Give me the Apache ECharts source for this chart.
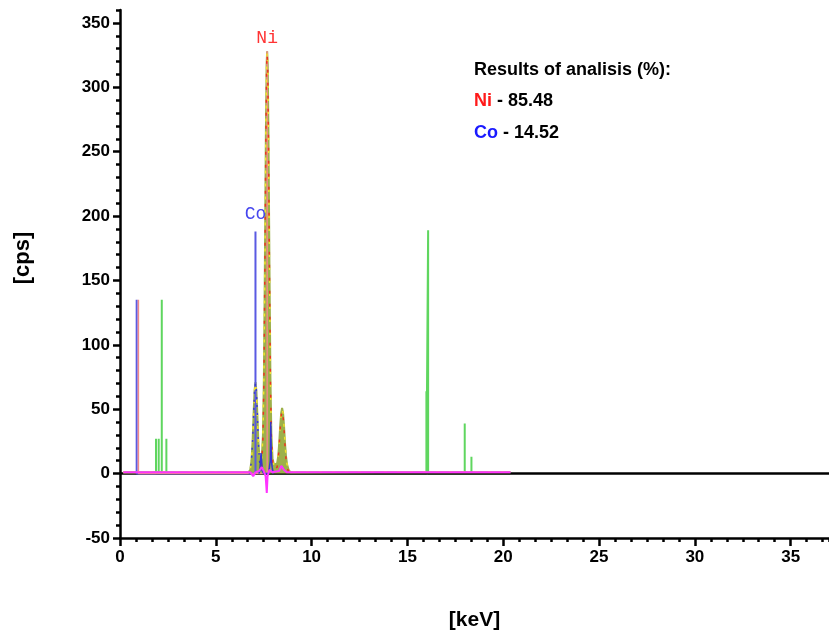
<!DOCTYPE html>
<html>
<head>
<meta charset="utf-8">
<script src="https://cdn.jsdelivr.net/npm/echarts@6/dist/echarts.min.js"></script>
<style>
html,body{margin:0;padding:0;background:#fff;}
#chart{width:829px;height:635px;}
</style>
</head>
<body>
<div id="chart"></div>
<script>
// ---- Data (keV, cps) ----
const xMajorTicks = [0, 5, 10, 15, 20, 25, 30, 35];
const yMajorTicks = [-50, 0, 50, 100, 150, 200, 250, 300, 350];

// measured spectrum (olive filled area)
const measured = [
  [0.17,1],[0.8,1],[0.9,1.5],[1.0,1],[6.7,1],
  [6.80,3],[6.86,10],[6.92,25],[6.97,45],[7.02,64],[7.07,71],[7.12,64],[7.17,45],[7.22,25],[7.28,12],[7.33,9],
  [7.40,12],[7.46,30],[7.51,75],[7.56,160],[7.61,260],[7.65,318],[7.68,328],[7.71,318],[7.75,260],[7.80,160],[7.85,75],[7.90,30],[7.96,12],
  [8.03,7],[8.12,6],[8.20,8],[8.26,14],[8.31,24],[8.36,37],[8.41,47],[8.46,51],[8.51,47],[8.56,37],[8.61,24],[8.66,14],[8.72,7],[8.80,3],[8.90,1],
  [20.38,1]
];

// Ni fit (red dashed)
const niFit = [
  [7.36,0],[7.40,10],[7.46,28],[7.51,73],[7.56,158],[7.61,258],[7.65,316],[7.68,326],[7.71,316],[7.75,258],[7.80,158],[7.85,73],[7.90,28],[7.96,10],
  [8.03,3],[8.12,2],[8.20,5],[8.26,12],[8.31,22],[8.36,35],[8.41,45],[8.46,49],[8.51,45],[8.56,35],[8.61,22],[8.66,12],[8.72,5],[8.80,1],[8.90,0]
];

// Co fit (blue dashed)
const coFit = [
  [6.75,0],[6.80,3],[6.86,10],[6.92,25],[6.97,45],[7.02,64],[7.07,70],[7.12,64],[7.17,45],[7.22,25],[7.28,10],[7.34,3],[7.40,0]
];

// small blue component peaks
const coComp = [
  [7.25,0],[7.30,3],[7.34,12],[7.36,16],[7.38,12],[7.43,2],[7.50,0],
  [7.75,0],[7.80,5],[7.84,10],[7.87,40],[7.90,10],[7.94,5],[8.00,0]
];

// residual (magenta)
const residual = [
  [0.17,1],[6.80,1],[6.95,-2],[7.07,1],[7.25,2],[7.40,5],[7.50,2],[7.60,-2],[7.66,-15],[7.70,-2],[7.80,3],[7.95,1],
  [8.30,2],[8.42,6],[8.48,7],[8.55,3],[8.70,1],[20.38,1]
];

// element line markers
const coLines = [[0.87,0],[0.87,135],[0.87,0],[7.07,0],[7.07,188],[7.07,0]];
const niLines = [[0.96,0],[0.96,135],[0.96,0],[7.68,0],[7.68,328],[7.68,0]];
const otherLines = [
  [1.88,0],[1.88,27],[1.88,0],[2.02,0],[2.02,27],[2.02,0],
  [2.18,0],[2.18,135],[2.18,0],[2.42,0],[2.42,27],[2.42,0],
  [15.99,0],[15.99,64],[15.99,0],[16.08,0],[16.08,189],[16.08,0],
  [17.99,0],[17.99,39],[17.99,0],[18.34,0],[18.34,13],[18.34,0],
  [20.38,0]
];

const zeroLine = [[0,0],[37,0]];

const results = [
  {el:'Ni', value:'85.48', color:'#ff1a1a'},
  {el:'Co', value:'14.52', color:'#1a1aff'}
];

const FONT = 'Liberation Sans, Arial, Helvetica, sans-serif';

const chart = echarts.init(document.getElementById('chart'), null, {renderer:'canvas'});

const axisLabelStyle = {color:'#000', fontWeight:'bold', fontSize:17, fontFamily:FONT};

const option = {
  animation:false,
  backgroundColor:'#fff',
  grid:{left:120, right:0, top:10, bottom:97, containLabel:false, outerBoundsMode:'none'},
  xAxis:[
    {
      type:'value', min:0, max:37, interval:5, position:'bottom',
      axisLine:{onZero:false, lineStyle:{color:'#000', width:2.5}},
      axisTick:{length:8, lineStyle:{color:'#000', width:2.5}},
      axisLabel:Object.assign({margin:11, showMaxLabel:false,
        formatter:function(v){return xMajorTicks.indexOf(v)>=0 ? String(v) : '';}}, axisLabelStyle),
      splitLine:{show:false},
      name:'[keV]', nameLocation:'middle', nameGap:72,
      nameTextStyle:{color:'#000', fontWeight:'bold', fontSize:21, fontFamily:FONT}
    },
    {
      type:'value', min:0, max:37, interval:5/6, position:'bottom',
      axisLine:{show:false, onZero:false},
      axisTick:{length:4, lineStyle:{color:'#000', width:2.5}},
      axisLabel:{show:false}, splitLine:{show:false}
    }
  ],
  yAxis:[
    {
      type:'value', min:-50, max:360, interval:50, position:'left',
      axisLine:{show:true, onZero:false, lineStyle:{color:'#000', width:2.5}},
      axisTick:{length:7, lineStyle:{color:'#000', width:2.5}},
      axisLabel:Object.assign({margin:10, showMaxLabel:false,
        formatter:function(v){return yMajorTicks.indexOf(v)>=0 ? String(v) : '';}}, axisLabelStyle),
      splitLine:{show:false},
      name:'[cps]', nameLocation:'middle', nameGap:86,
      nameTextStyle:{color:'#000', fontWeight:'bold', fontSize:22, fontFamily:FONT, padding:[0,0,0,32]}
    },
    {
      type:'value', min:-50, max:360, interval:10, position:'left',
      axisLine:{show:false, onZero:false},
      axisTick:{length:4, lineStyle:{color:'#000', width:2.5}},
      axisLabel:{show:false}, splitLine:{show:false}
    }
  ],
  series:[
    {
      name:'other lines', type:'line', data:otherLines, symbol:'none', z:1,
      lineStyle:{color:'#5fd65f', width:2}
    },
    {
      name:'zero', type:'line', data:zeroLine, symbol:'none', z:2, silent:true,
      lineStyle:{color:'#000', width:2.5}
    },
    {
      name:'measured', type:'line', data:measured, symbol:'none', z:3,
      lineStyle:{color:'#9db04a', width:2},
      areaStyle:{color:'#9db04a', opacity:1}
    },
    {
      name:'Co lines', type:'line', data:coLines, symbol:'none', z:4,
      lineStyle:{color:'#5a5ae2', width:2},
      markPoint:{
        symbol:'circle', symbolSize:0, silent:true,
        data:[{coord:[7.07,188]}],
        label:{show:true, position:'top', distance:8, formatter:'Co', color:'#4646ee',
          fontSize:18, fontFamily:'Liberation Mono, Courier New, monospace'}
      }
    },
    {
      name:'Ni lines', type:'line', data:niLines, symbol:'none', z:4,
      lineStyle:{color:'#f08a8a', width:1.5},
      markPoint:{
        symbol:'circle', symbolSize:0, silent:true,
        data:[{coord:[7.68,328]}],
        label:{show:true, position:'top', distance:4, formatter:'Ni', color:'#ff3333',
          fontSize:18, fontFamily:'Liberation Mono, Courier New, monospace'}
      }
    },
    {
      name:'total fit', type:'line', data:measured, symbol:'none', z:5,
      lineStyle:{color:'#f2e22c', width:1.5, type:[3,10]}
    },
    {
      name:'Ni fit', type:'line', data:niFit, symbol:'none', z:6,
      lineStyle:{color:'#ec3322', width:1.5, type:[3,10], dashOffset:6}
    },
    {
      name:'Co fit', type:'line', data:coFit, symbol:'none', z:6,
      lineStyle:{color:'#3a3ad6', width:1.5, type:[2,6]}
    },
    {
      name:'Co comp', type:'line', data:coComp, symbol:'none', z:7,
      lineStyle:{color:'#3535d0', width:1.5}
    },
    {
      name:'residual', type:'line', data:residual, symbol:'none', z:8,
      lineStyle:{color:'#ff33ff', width:2}
    }
  ],
  graphic:[
    {
      type:'text', left:474, top:61, silent:true,
      style:{text:'Results of analisis (%):', fill:'#000', font:'bold 18px ' + FONT}
    }
  ].concat(results.map(function(r, i){
    return {
      type:'text', left:474, top:92 + i*32, silent:true,
      style:{
        text:'{e|' + r.el + '}{v| - ' + r.value + '}',
        rich:{
          e:{fill:r.color, font:'bold 18px ' + FONT},
          v:{fill:'#000', font:'bold 18px ' + FONT}
        }
      }
    };
  }))
};

chart.setOption(option);
</script>
</body>
</html>
